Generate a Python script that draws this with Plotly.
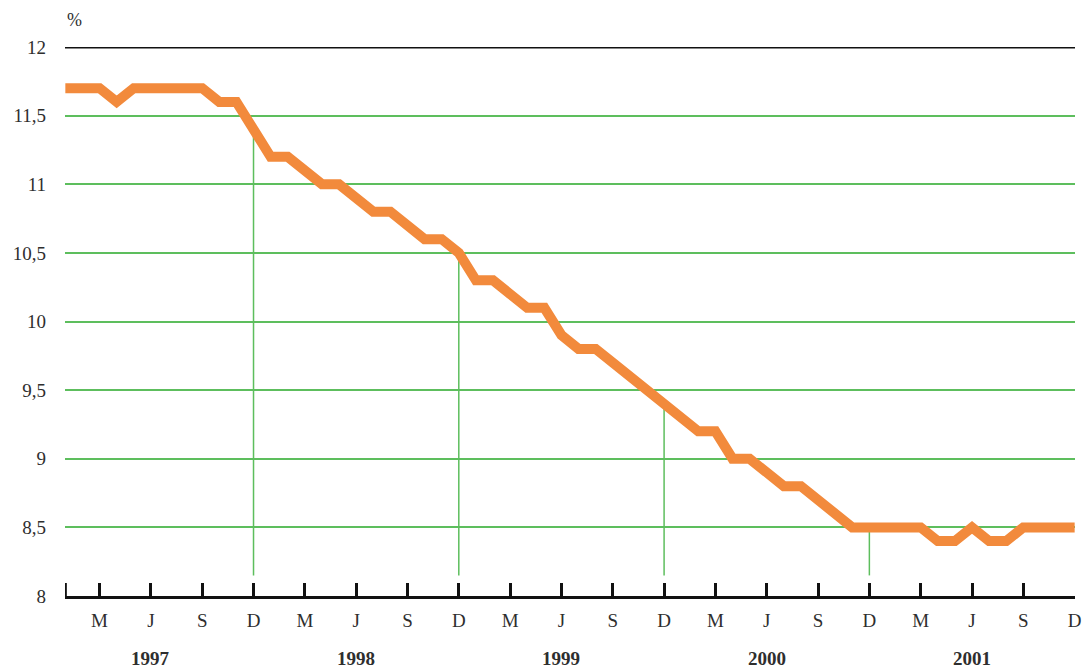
import plotly.graph_objects as go

# Monthly rate, January 1997 to December 2001 (percent)
rate_1997 = [11.7, 11.7, 11.7, 11.6, 11.7, 11.7, 11.7, 11.7, 11.7, 11.6, 11.6, 11.4]
rate_1998 = [11.2, 11.2, 11.1, 11.0, 11.0, 10.9, 10.8, 10.8, 10.7, 10.6, 10.6, 10.5]
rate_1999 = [10.3, 10.3, 10.2, 10.1, 10.1, 9.9, 9.8, 9.8, 9.7, 9.6, 9.5, 9.4]
rate_2000 = [9.3, 9.2, 9.2, 9.0, 9.0, 8.9, 8.8, 8.8, 8.7, 8.6, 8.5, 8.5]
rate_2001 = [8.5, 8.5, 8.5, 8.4, 8.4, 8.5, 8.4, 8.4, 8.5, 8.5, 8.5, 8.5]

years = ["1997", "1998", "1999", "2000", "2001"]
month_letters = ["M", "J", "S", "D"]          # March, June, September, December
month_offsets = [2, 5, 8, 11]
y_ticks = [8, 8.5, 9, 9.5, 10, 10.5, 11, 11.5, 12]
y_labels = ["8", "8,5", "9", "9,5", "10", "10,5", "11", "11,5", "12"]

rates = rate_1997 + rate_1998 + rate_1999 + rate_2000 + rate_2001
months = list(range(len(rates)))

# x-axis ticks: start of the series, then each quarter-end letter
x_tickvals = [0]
x_ticktext = [""]
for yi in range(len(years)):
    for off, letter in zip(month_offsets, month_letters):
        x_tickvals.append(yi * 12 + off)
        x_ticktext.append(letter)

ORANGE = "#F28A3C"
GREEN = "#5DBE5D"
INK = "#2E2E2E"
SERIF = "Liberation Serif"
FONT_SIZE = 19

fig = go.Figure()

# Drop lines from each December (except the last) down to the axis
drop_x, drop_y = [], []
for yi in range(len(years) - 1):
    m = yi * 12 + 11
    drop_x += [m, m, None]
    drop_y += [rates[m], 8.15, None]
fig.add_trace(go.Scatter(x=drop_x, y=drop_y, mode="lines",
                         line=dict(color=GREEN, width=1.5),
                         hoverinfo="skip", showlegend=False))

fig.add_trace(go.Scatter(x=months, y=rates, mode="lines",
                         line=dict(color=ORANGE, width=10),
                         showlegend=False))

# Black reference line at the top of the scale
fig.add_shape(type="line", xref="paper", yref="y", x0=0, x1=1, y0=12, y1=12,
              line=dict(color="#111111", width=3))

# Tick mark at the start of the axis (edge ticks are not always drawn)
fig.add_shape(type="line", xref="x", yref="y", x0=x_tickvals[0], x1=x_tickvals[0],
              ysizemode="pixel", yanchor=8, y0=0, y1=13,
              line=dict(color="#111111", width=3))

# Year labels centred on each year's June
for yi, yr in enumerate(years):
    fig.add_annotation(x=yi * 12 + 5, y=-0.113, xref="x", yref="paper",
                       text=f"<b>{yr}</b>", showarrow=False,
                       font=dict(family=SERIF, size=FONT_SIZE, color=INK),
                       xanchor="center", yanchor="middle")

fig.add_annotation(x=0, y=1.05, xref="paper", yref="paper", text="%",
                   showarrow=False, xanchor="left", yanchor="middle",
                   font=dict(family=SERIF, size=FONT_SIZE - 1, color=INK))

fig.update_layout(
    width=1086, height=668,
    margin=dict(l=65, r=11, t=47, b=72),
    paper_bgcolor="white", plot_bgcolor="white",
    xaxis=dict(range=[-0.02, len(rates) - 1 + 0.02], tickmode="array",
               tickvals=x_tickvals, ticktext=x_ticktext,
               showgrid=False, zeroline=False, automargin=False,
               showline=True, linecolor="#111111", linewidth=3,
               ticks="inside", ticklen=13, tickwidth=3, tickcolor="#111111",
               tickfont=dict(family=SERIF, size=FONT_SIZE, color=INK),
               ticklabelstandoff=5),
    yaxis=dict(range=[8, 12], tickmode="array", tickvals=y_ticks,
               ticktext=y_labels, showgrid=True, gridcolor=GREEN,
               gridwidth=1.5, zeroline=False, showline=False, automargin=False,
               tickfont=dict(family=SERIF, size=FONT_SIZE, color=INK),
               ticklabelstandoff=18),
)

fig.write_html("out.html")
